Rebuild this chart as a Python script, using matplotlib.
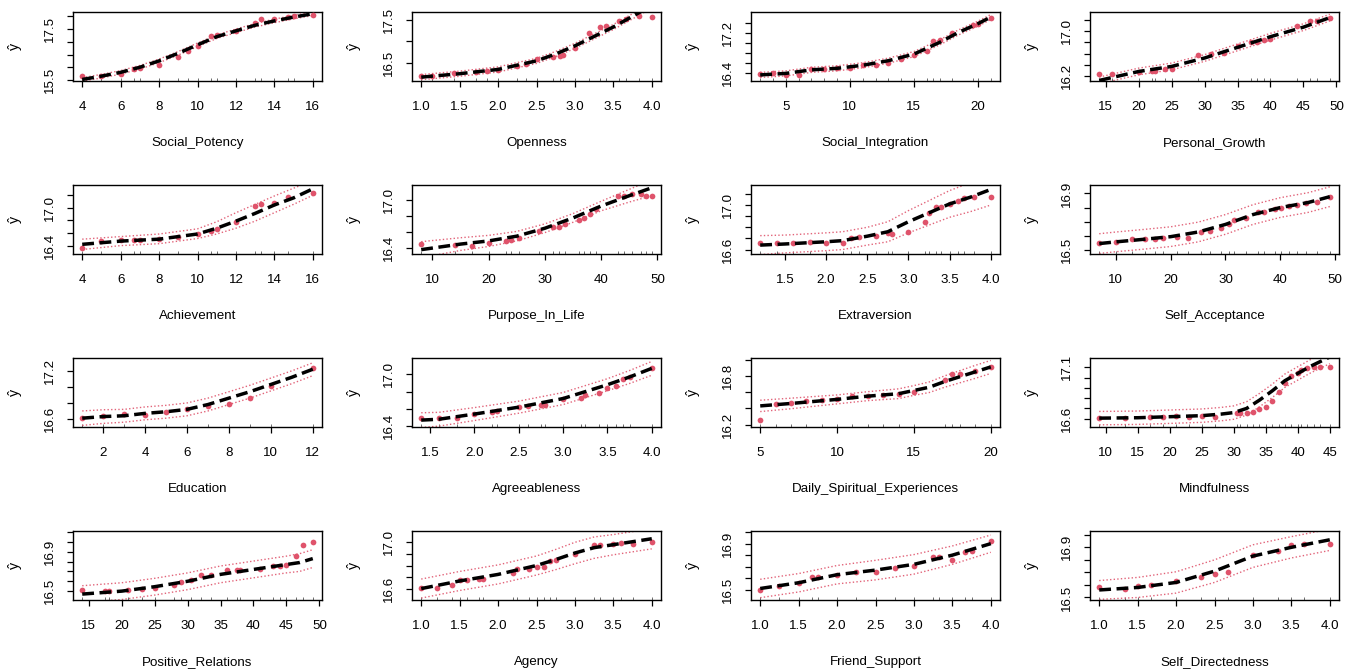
import numpy as np
import matplotlib
matplotlib.use("Agg")
import matplotlib.pyplot as plt

# ---------------- data ----------------
names = ["Social_Potency", "Openness", "Social_Integration", "Personal_Growth",
         "Achievement", "Purpose_In_Life", "Extraversion", "Self_Acceptance",
         "Education", "Agreeableness", "Daily_Spiritual_Experiences", "Mindfulness",
         "Positive_Relations", "Agency", "Friend_Support", "Self_Directedness"]

# 1 Social_Potency
sp_x = [4, 5, 6, 7, 8, 9, 10, 11, 12, 13, 14, 15, 16]
sp_fit = [15.52, 15.65, 15.80, 16.00, 16.25, 16.55, 16.88, 17.20, 17.43, 17.65, 17.82, 17.97, 18.10]
sp_lo = [15.45, 15.58, 15.73, 15.93, 16.18, 16.48, 16.81, 17.13, 17.36, 17.58, 17.75, 17.90, 18.03]
sp_hi = [15.59, 15.72, 15.87, 16.07, 16.32, 16.62, 16.95, 17.27, 17.50, 17.72, 17.89, 18.04, 18.17]
sp_px = [4, 5, 6, 6.7, 7, 8, 9, 9.5, 10, 10.7, 11, 12, 13, 13.3, 14, 14.7, 15, 16]
sp_py = [15.66, 15.64, 15.74, 15.95, 15.96, 16.07, 16.42, 16.64, 16.84, 17.21, 17.28, 17.43, 17.74,
         17.91, 17.91, 17.97, 18.00, 18.07]

# 2 Openness
op_x = [1.0, 1.5, 2.0, 2.5, 2.75, 3.0, 3.25, 3.5, 3.75, 4.0]
op_fit = [16.16, 16.24, 16.34, 16.54, 16.70, 16.89, 17.11, 17.33, 17.58, 17.83]
op_lo = [16.10, 16.18, 16.28, 16.48, 16.64, 16.83, 17.05, 17.27, 17.52, 17.77]
op_hi = [16.22, 16.30, 16.40, 16.60, 16.76, 16.95, 17.17, 17.39, 17.64, 17.89]
op_px = [1.0, 1.14, 1.42, 1.71, 1.85, 2.0, 2.25, 2.36, 2.5, 2.71, 2.81, 2.85, 3.0, 3.18, 3.32,
         3.4, 3.57, 3.66, 3.83, 4.0]
op_py = [16.18, 16.19, 16.26, 16.28, 16.30, 16.32, 16.41, 16.46, 16.58, 16.63, 16.66, 16.67,
         16.84, 17.19, 17.33, 17.35, 17.48, 17.52, 17.59, 17.56]

# 3 Social_Integration
si_x = [3, 5, 7, 9, 11, 13, 15, 17, 18.5, 20, 21]
si_fit = [16.37, 16.40, 16.47, 16.50, 16.56, 16.65, 16.78, 17.01, 17.21, 17.38, 17.51]
si_lo = [16.32, 16.35, 16.42, 16.45, 16.51, 16.60, 16.73, 16.96, 17.16, 17.33, 17.46]
si_hi = [16.42, 16.45, 16.52, 16.55, 16.61, 16.70, 16.83, 17.06, 17.26, 17.43, 17.56]
si_px = [3, 4, 5, 6, 7, 8, 9, 10, 11, 12, 13, 14, 15, 16, 16.5, 17, 18, 19.6, 20, 21]
si_py = [16.39, 16.41, 16.37, 16.37, 16.48, 16.48, 16.50, 16.51, 16.56, 16.56, 16.61, 16.68,
         16.76, 16.85, 17.03, 17.05, 17.19, 17.35, 17.37, 17.50]

# 4 Personal_Growth
pg_x = [14, 20, 25, 30, 35, 40, 45, 49]
pg_fit = [16.12, 16.28, 16.37, 16.52, 16.71, 16.90, 17.07, 17.24]
pg_lo = [16.06, 16.22, 16.31, 16.46, 16.65, 16.84, 17.01, 17.18]
pg_hi = [16.18, 16.34, 16.43, 16.58, 16.77, 16.96, 17.13, 17.30]
pg_px = [14, 16, 20, 22, 22.5, 24, 25, 29, 31, 33, 35, 37, 38, 39, 40, 44, 46, 47, 49]
pg_py = [16.24, 16.24, 16.27, 16.29, 16.29, 16.32, 16.32, 16.58, 16.60, 16.61, 16.73, 16.81,
         16.81, 16.84, 16.86, 17.09, 17.18, 17.18, 17.24]

# 5 Achievement
ac_x = [4, 6, 8, 10, 11, 12, 13, 14, 15, 16]
ac_fit = [16.43, 16.48, 16.51, 16.59, 16.68, 16.79, 16.91, 17.04, 17.15, 17.29]
ac_lo = [16.35, 16.41, 16.44, 16.52, 16.59, 16.68, 16.79, 16.92, 17.05, 17.19]
ac_hi = [16.51, 16.55, 16.59, 16.67, 16.78, 16.92, 17.05, 17.18, 17.30, 17.42]
ac_px = [4, 5, 6, 6.7, 7, 8, 9, 10, 10.7, 11, 12, 13, 13.3, 14, 14.7, 16]
ac_py = [16.38, 16.48, 16.50, 16.49, 16.49, 16.51, 16.54, 16.59, 16.64, 16.67, 16.78, 17.02,
         17.05, 17.07, 17.17, 17.22]

# 6 Purpose_In_Life
pl_x = [8, 10, 15, 20, 25, 30, 35, 40, 45, 49]
pl_fit = [16.38, 16.40, 16.45, 16.49, 16.55, 16.65, 16.78, 16.93, 17.06, 17.16]
pl_lo = [16.28, 16.305, 16.37, 16.42, 16.49, 16.595, 16.725, 16.87, 16.98, 17.06]
pl_hi = [16.48, 16.495, 16.53, 16.56, 16.61, 16.705, 16.835, 16.99, 17.14, 17.26]
pl_px = [8, 14, 17, 20, 23, 24, 25.4, 29, 31.5, 32.5, 33.5, 36, 37, 38, 39, 43, 44, 45.5, 47, 48, 49]
pl_py = [16.45, 16.44, 16.43, 16.46, 16.49, 16.50, 16.53, 16.62, 16.66, 16.67, 16.70, 16.75,
         16.78, 16.83, 16.89, 17.06, 17.06, 17.08, 17.08, 17.06, 17.06]

# 7 Extraversion
ex_x = [1.2, 1.5, 2.0, 2.2, 2.5, 2.75, 3.0, 3.25, 3.5, 3.75, 4.0]
ex_fit = [16.64, 16.65, 16.67, 16.68, 16.72, 16.76, 16.85, 16.93, 17.01, 17.07, 17.14]
ex_lo = [16.555, 16.57, 16.59, 16.60, 16.64, 16.67, 16.75, 16.82, 16.89, 16.94, 17.00]
ex_hi = [16.725, 16.73, 16.75, 16.76, 16.80, 16.85, 16.95, 17.04, 17.13, 17.20, 17.28]
ex_px = [1.2, 1.4, 1.6, 1.8, 2.0, 2.2, 2.3, 2.4, 2.6, 2.75, 2.8, 3.0, 3.2, 3.25, 3.33, 3.4,
         3.5, 3.6, 3.67, 3.8, 4.0]
ex_py = [16.66, 16.66, 16.66, 16.67, 16.66, 16.66, 16.70, 16.71, 16.72, 16.75, 16.74, 16.76,
         16.85, 16.93, 16.98, 16.98, 17.01, 17.04, 17.06, 17.07, 17.07]

# 8 Self_Acceptance
sa_x = [7, 10, 15, 20, 25, 30, 35, 40, 45, 49]
sa_fit = [16.544, 16.556, 16.574, 16.593, 16.626, 16.68, 16.75, 16.80, 16.835, 16.877]
sa_lo = [16.474, 16.486, 16.504, 16.523, 16.556, 16.61, 16.68, 16.73, 16.765, 16.807]
sa_hi = [16.614, 16.626, 16.644, 16.663, 16.696, 16.75, 16.82, 16.87, 16.905, 16.947]
sa_px = [7, 10, 13, 15.3, 17.1, 18.7, 21.1, 23.2, 25.5, 27.2, 29.2, 30.6, 31.6, 33.8, 35.9,
         37.1, 39.1, 40.1, 41.5, 43, 44.6, 46.6, 49]
sa_py = [16.55, 16.556, 16.574, 16.574, 16.58, 16.586, 16.593, 16.585, 16.626, 16.63, 16.656,
         16.68, 16.71, 16.726, 16.767, 16.77, 16.79, 16.80, 16.81, 16.82, 16.83, 16.84, 16.877]

# 9 Education
ed_x = [1, 2, 3, 4, 5, 6, 7, 8, 9, 10, 11, 12]
ed_fit = [16.61, 16.63, 16.64, 16.67, 16.69, 16.72, 16.78, 16.86, 16.94, 17.03, 17.12, 17.22]
ed_lo = [16.52, 16.545, 16.56, 16.59, 16.61, 16.64, 16.70, 16.78, 16.86, 16.95, 17.04, 17.14]
ed_hi = [16.70, 16.715, 16.72, 16.75, 16.77, 16.80, 16.86, 16.94, 17.02, 17.11, 17.20, 17.30]
ed_px = [1, 2, 3, 4, 5, 6, 7, 8, 9, 10, 12]
ed_py = [16.61, 16.64, 16.66, 16.65, 16.69, 16.72, 16.76, 16.79, 16.86, 17.01, 17.23]

# 10 Agreeableness
ag_x = [1.4, 1.6, 2.0, 2.5, 3.0, 3.25, 3.5, 3.75, 4.0]
ag_fit = [16.47, 16.48, 16.54, 16.62, 16.72, 16.80, 16.88, 16.97, 17.07]
ag_lo = [16.385, 16.40, 16.465, 16.55, 16.65, 16.73, 16.81, 16.895, 16.99]
ag_hi = [16.555, 16.56, 16.615, 16.69, 16.79, 16.87, 16.95, 17.045, 17.15]
ag_px = [1.4, 1.6, 1.8, 2.0, 2.2, 2.25, 2.5, 2.6, 2.75, 2.8, 3.0, 3.2, 3.25, 3.4, 3.5, 3.6,
         3.67, 3.75, 4.0]
ag_py = [16.49, 16.49, 16.49, 16.54, 16.56, 16.57, 16.62, 16.63, 16.65, 16.65, 16.71, 16.73,
         16.76, 16.78, 16.84, 16.86, 16.95, 16.97, 17.07]

# 11 Daily_Spiritual_Experiences
ds_x = [5, 7, 10, 12, 14, 15, 16, 17, 18, 19, 20]
ds_fit = [16.43, 16.46, 16.51, 16.55, 16.58, 16.62, 16.66, 16.73, 16.79, 16.85, 16.91]
ds_lo = [16.36, 16.395, 16.455, 16.495, 16.52, 16.56, 16.595, 16.66, 16.715, 16.77, 16.83]
ds_hi = [16.50, 16.525, 16.565, 16.605, 16.64, 16.68, 16.725, 16.80, 16.865, 16.93, 16.99]
ds_px = [5, 6, 7, 8, 9, 10, 11, 12, 13, 14, 15, 17, 17.5, 18, 19, 20]
ds_py = [16.26, 16.45, 16.46, 16.49, 16.50, 16.51, 16.55, 16.55, 16.57, 16.58, 16.60, 16.75,
         16.82, 16.82, 16.86, 16.91]

# 12 Mindfulness
mf_x = [9, 15, 20, 25, 28, 30, 32, 34, 36, 38, 40, 42, 44, 45]
mf_fit = [16.606, 16.61, 16.62, 16.63, 16.645, 16.66, 16.70, 16.78, 16.87, 16.97, 17.04,
          17.11, 17.17, 17.20]
mf_lo = [16.541, 16.545, 16.555, 16.565, 16.58, 16.595, 16.635, 16.715, 16.805, 16.905,
         16.975, 17.045, 17.105, 17.135]
mf_hi = [16.671, 16.675, 16.685, 16.695, 16.71, 16.725, 16.765, 16.845, 16.935, 17.035,
         17.105, 17.175, 17.235, 17.265]
mf_px = [9, 13, 17, 19, 21, 23, 25, 27, 30.5, 31, 32, 33, 34, 35, 36, 37, 38, 39, 40, 40.5,
         41.5, 42.5, 43.5, 45]
mf_py = [16.606, 16.61, 16.62, 16.62, 16.63, 16.62, 16.63, 16.62, 16.66, 16.66, 16.66, 16.67,
         16.69, 16.71, 16.77, 16.86, 16.95, 17.02, 17.04, 17.07, 17.09, 17.10, 17.10, 17.10]

# 13 Positive_Relations
pr_x = [14, 20, 25, 30, 35, 40, 45, 47, 49]
pr_fit = [16.47, 16.50, 16.545, 16.60, 16.67, 16.72, 16.77, 16.79, 16.83]
pr_lo = [16.385, 16.415, 16.46, 16.515, 16.585, 16.635, 16.685, 16.70, 16.74]
pr_hi = [16.555, 16.585, 16.63, 16.685, 16.755, 16.805, 16.855, 16.88, 16.92]
pr_px = [14, 17.5, 18, 21, 23, 25, 28, 29, 30.5, 32, 33.5, 36, 37.5, 38, 41, 43, 44, 45,
         46.5, 47.5, 49]
pr_py = [16.51, 16.50, 16.50, 16.51, 16.52, 16.53, 16.56, 16.59, 16.61, 16.66, 16.66, 16.71,
         16.71, 16.71, 16.72, 16.75, 16.75, 16.76, 16.86, 16.97, 17.00]

# 14 Agency
an_x = [1.0, 1.5, 2.0, 2.5, 2.75, 3.0, 3.25, 3.5, 4.0]
an_fit = [16.606, 16.67, 16.725, 16.80, 16.85, 16.905, 16.95, 16.975, 17.025]
an_lo = [16.526, 16.59, 16.645, 16.72, 16.765, 16.815, 16.86, 16.89, 16.94]
an_hi = [16.686, 16.75, 16.805, 16.88, 16.935, 16.995, 17.04, 17.06, 17.11]
an_px = [1.0, 1.2, 1.4, 1.5, 1.6, 1.75, 1.8, 2.2, 2.25, 2.4, 2.5, 2.6, 2.67, 2.75, 3.0, 3.25,
         3.33, 3.5, 3.6, 3.75, 4.0]
an_py = [16.61, 16.61, 16.64, 16.68, 16.68, 16.69, 16.69, 16.74, 16.77, 16.77, 16.79, 16.79,
         16.84, 16.85, 16.90, 16.97, 16.97, 16.98, 16.99, 16.98, 17.00]

# 15 Friend_Support
fs_x = [1.0, 1.5, 2.0, 2.5, 3.0, 3.5, 4.0]
fs_fit = [16.51, 16.56, 16.63, 16.67, 16.72, 16.80, 16.90]
fs_lo = [16.43, 16.48, 16.55, 16.585, 16.635, 16.72, 16.825]
fs_hi = [16.59, 16.64, 16.71, 16.755, 16.805, 16.88, 16.975]
fs_px = [1.0, 1.25, 1.5, 1.67, 1.75, 2.0, 2.25, 2.5, 2.75, 3.0, 3.25, 3.33, 3.5, 3.67, 3.75, 4.0]
fs_py = [16.50, 16.53, 16.56, 16.61, 16.61, 16.63, 16.65, 16.65, 16.69, 16.71, 16.78, 16.78,
         16.76, 16.83, 16.84, 16.92]

# 16 Self_Directedness
sd_x = [1.0, 1.5, 2.0, 2.5, 3.0, 3.5, 4.0]
sd_fit = [16.56, 16.58, 16.62, 16.71, 16.83, 16.90, 16.96]
sd_lo = [16.485, 16.50, 16.535, 16.62, 16.74, 16.815, 16.875]
sd_hi = [16.635, 16.66, 16.705, 16.80, 16.92, 16.985, 17.045]
sd_px = [1.0, 1.33, 1.5, 1.67, 2.0, 2.33, 2.5, 2.67, 3.0, 3.33, 3.5, 3.67, 4.0]
sd_py = [16.58, 16.57, 16.59, 16.60, 16.63, 16.66, 16.69, 16.70, 16.84, 16.87, 16.92, 16.93, 16.93]

# y tick values and their labels (R drops overlapping labels)
y_ticks = [
    [15.5, 16.0, 16.5, 17.0, 17.5, 18.0], [16.5, 17.0, 17.5],
    [16.4, 16.6, 16.8, 17.0, 17.2, 17.4], [16.2, 16.4, 16.6, 16.8, 17.0, 17.2],
    [16.4, 16.6, 16.8, 17.0, 17.2], [16.4, 16.6, 16.8, 17.0],
    [16.6, 16.7, 16.8, 16.9, 17.0, 17.1], [16.5, 16.6, 16.7, 16.8, 16.9],
    [16.6, 16.8, 17.0, 17.2], [16.4, 16.6, 16.8, 17.0],
    [16.2, 16.4, 16.6, 16.8, 17.0], [16.6, 16.7, 16.8, 16.9, 17.0, 17.1],
    [16.5, 16.6, 16.7, 16.8, 16.9, 17.0, 17.1], [16.6, 16.7, 16.8, 16.9, 17.0],
    [16.5, 16.6, 16.7, 16.8, 16.9, 17.0], [16.5, 16.6, 16.7, 16.8, 16.9, 17.0],
]
y_labels = [
    ["15.5", "", "", "", "17.5", ""], ["16.5", "", "17.5"],
    ["16.4", "", "", "", "17.2", ""], ["16.2", "", "", "", "17.0", ""],
    ["16.4", "", "", "17.0", ""], ["16.4", "", "", "17.0"],
    ["16.6", "", "", "", "17.0", ""], ["16.5", "", "", "", "16.9"],
    ["16.6", "", "", "17.2"], ["16.4", "", "", "17.0"],
    ["16.2", "", "", "16.8", ""], ["16.6", "", "", "", "", "17.1"],
    ["16.5", "", "", "", "16.9", "", ""], ["16.6", "", "", "", "17.0"],
    ["16.5", "", "", "", "16.9", ""], ["16.5", "", "", "", "16.9", ""],
]
x_ticks = [
    [4, 6, 8, 10, 12, 14, 16], [1.0, 1.5, 2.0, 2.5, 3.0, 3.5, 4.0], [5, 10, 15, 20],
    [15, 20, 25, 30, 35, 40, 45, 50],
    [4, 6, 8, 10, 12, 14, 16], [10, 20, 30, 40, 50], [1.5, 2.0, 2.5, 3.0, 3.5, 4.0],
    [10, 20, 30, 40, 50],
    [2, 4, 6, 8, 10, 12], [1.5, 2.0, 2.5, 3.0, 3.5, 4.0], [5, 10, 15, 20],
    [10, 15, 20, 25, 30, 35, 40, 45],
    [15, 20, 25, 30, 35, 40, 45, 50], [1.0, 1.5, 2.0, 2.5, 3.0, 3.5, 4.0],
    [1.0, 1.5, 2.0, 2.5, 3.0, 3.5, 4.0], [1.0, 1.5, 2.0, 2.5, 3.0, 3.5, 4.0],
]

# ---------------- layout / style ----------------
y_limits = [(15.46, 18.17), (16.07, 17.68), (16.25, 17.61), (16.11, 17.34),
            (16.28, 17.35), (16.325, 17.195), (16.56, 17.18), (16.47, 16.96),
            (16.50, 17.36), (16.39, 17.19), (16.17, 17.02), (16.52, 17.19),
            (16.41, 17.11), (16.51, 17.09), (16.41, 17.01), (16.48, 17.03)]

series = [
    (sp_x, sp_fit, sp_lo, sp_hi, sp_px, sp_py), (op_x, op_fit, op_lo, op_hi, op_px, op_py),
    (si_x, si_fit, si_lo, si_hi, si_px, si_py), (pg_x, pg_fit, pg_lo, pg_hi, pg_px, pg_py),
    (ac_x, ac_fit, ac_lo, ac_hi, ac_px, ac_py), (pl_x, pl_fit, pl_lo, pl_hi, pl_px, pl_py),
    (ex_x, ex_fit, ex_lo, ex_hi, ex_px, ex_py), (sa_x, sa_fit, sa_lo, sa_hi, sa_px, sa_py),
    (ed_x, ed_fit, ed_lo, ed_hi, ed_px, ed_py), (ag_x, ag_fit, ag_lo, ag_hi, ag_px, ag_py),
    (ds_x, ds_fit, ds_lo, ds_hi, ds_px, ds_py), (mf_x, mf_fit, mf_lo, mf_hi, mf_px, mf_py),
    (pr_x, pr_fit, pr_lo, pr_hi, pr_px, pr_py), (an_x, an_fit, an_lo, an_hi, an_px, an_py),
    (fs_x, fs_fit, fs_lo, fs_hi, fs_px, fs_py), (sd_x, sd_fit, sd_lo, sd_hi, sd_px, sd_py),
]

RED = "#DF536B"
plt.rcParams['font.family'] = ['Liberation Sans', 'DejaVu Sans']
FS = 9.6

W, H = 1355, 671
fig = plt.figure(figsize=(W / 100, H / 100), dpi=100)
fig.patch.set_facecolor("white")

BOX_W, BOX_H = 249, 69
PX2PT = 0.72

for i, name in enumerate(names):
    r, c = divmod(i, 4)
    left = 73 + 339 * c
    top = 12 + 173 * r
    ax = fig.add_axes([left / W, 1 - (top + BOX_H) / H, BOX_W / W, BOX_H / H])
    x, fit, lo, hi, px, py = series[i]

    ax.plot(x, lo, color=RED, lw=1.0, ls=(0, (1, 1.6)), alpha=0.9, zorder=2)
    ax.plot(x, hi, color=RED, lw=1.0, ls=(0, (1, 1.6)), alpha=0.9, zorder=2)
    ax.scatter(px, py, s=17, color=RED, linewidths=0, zorder=3)
    ax.plot(x, fit, color="black", lw=2.5, ls=(0, (3.4, 1.6)), zorder=4,
            dash_capstyle="butt", solid_capstyle="butt")
    ax.vlines(px, 0, 0.04, transform=ax.get_xaxis_transform(), color="#333333",
              lw=0.5, zorder=1)

    xmin, xmax = min(px), max(px)
    pad = 0.04 * (xmax - xmin)
    ax.set_xlim(xmin - pad, xmax + pad)
    ax.set_ylim(*y_limits[i])

    xt = x_ticks[i]
    fmt = "%.1f" if any(v != int(v) for v in xt) else "%d"
    ax.set_xticks(xt, labels=[fmt % v for v in xt])
    ax.set_yticks(y_ticks[i], labels=y_labels[i])
    for lab in ax.get_yticklabels():
        lab.set_rotation(90)
        lab.set_va("center")
        lab.set_ha("right")

    ax.tick_params(axis="both", direction="out", length=4.3, width=0.9,
                   labelsize=FS, colors="black")
    ax.tick_params(axis="x", pad=10.3)
    ax.tick_params(axis="y", pad=8.0)
    for s in ax.spines.values():
        s.set_linewidth(1.0)
        s.set_color("black")

    ax.annotate(name, xy=(0.5, 0), xycoords="axes fraction",
                xytext=(0, -62 * PX2PT), textcoords="offset points",
                ha="center", va="center", fontsize=FS)
    ax.annotate("ŷ", xy=(0, 0.5), xycoords="axes fraction",
                xytext=(-58 * PX2PT, 0), textcoords="offset points",
                ha="center", va="center", rotation=90, fontsize=FS + 0.6)

fig.savefig("out.png", dpi=100, facecolor="white")
